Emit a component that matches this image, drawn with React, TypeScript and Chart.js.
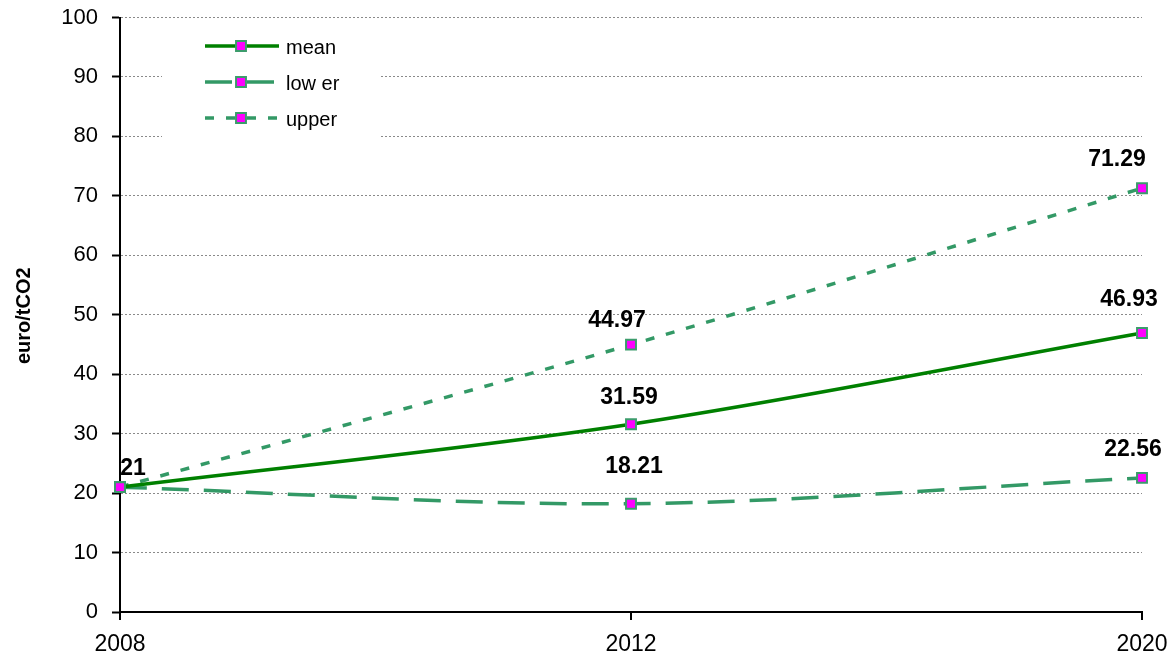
import { useEffect, useRef } from "react";
import { Chart, registerables } from "chart.js";

Chart.register(...registerables);

// Carbon price scenarios (euro per tonne CO2)
const years = ["2008", "2012", "2020"];
const meanPrice = [21, 31.59, 46.93];
const lowerPrice = [21, 18.21, 22.56];
const upperPrice = [21, 44.97, 71.29];
const seriesNames = ["mean", "low er", "upper"];

const yMin = 0;
const yMax = 100;
const yStep = 10;
const yAxisTitle = "euro/tCO2";

// Which point labels are printed, and where they sit relative to the point (px)
const labelShift: (number[] | null)[][] = [
  [[13, -20], [-2, -28], [-13, -35]],
  [null, [3, -39], [-9, -30]],
  [null, [-14, -26], [-25, -30]],
];

const FONT = '"Liberation Sans", Arial, Helvetica, sans-serif';
const DARK_GREEN = "#008000";
const SEA_GREEN = "#339966";
const MARKER_FILL = "#FF00FF";
const MARKER_EDGE = "#3C9C6C";

const markerStyle = {
  pointStyle: "rect" as const,
  pointRadius: 7,
  pointBackgroundColor: MARKER_FILL,
  pointBorderColor: MARKER_EDGE,
  pointBorderWidth: 2,
  tension: 0.33,
  fill: false,
  clip: false as const,
};

const valueLabels = {
  id: "valueLabels",
  afterDatasetsDraw(chart: any) {
    const { ctx } = chart;
    const size = 23;
    ctx.save();
    ctx.font = `bold ${size}px ${FONT}`;
    ctx.fillStyle = "#000";
    ctx.textAlign = "center";
    ctx.textBaseline = "alphabetic";
    chart.data.datasets.forEach((ds: any, di: number) => {
      const meta = chart.getDatasetMeta(di);
      meta.data.forEach((pt: any, i: number) => {
        const shift = labelShift[di][i];
        if (!shift) return;
        const text = String(ds.data[i]);
        ctx.fillText(text, pt.x + shift[0], pt.y + shift[1] + size * 0.358);
      });
    });
    ctx.restore();
  },
};

const legendBox = {
  id: "legendBox",
  afterDraw(chart: any) {
    const { ctx } = chart;
    const left = 162;
    const top = 24;
    const boxW = 218;
    const boxH = 116;
    const firstRow = 46;
    const rowGap = 36;
    ctx.save();
    ctx.fillStyle = "#ffffff";
    ctx.fillRect(left, top, boxW, boxH);
    chart.data.datasets.forEach((ds: any, i: number) => {
      const y = firstRow + i * rowGap;
      ctx.save();
      ctx.strokeStyle = ds.borderColor;
      ctx.lineWidth = ds.borderWidth;
      ctx.setLineDash(ds.borderDash || []);
      ctx.beginPath();
      ctx.moveTo(205, y);
      ctx.lineTo(279, y);
      ctx.stroke();
      ctx.restore();
      const half = ds.pointRadius * Math.SQRT1_2;
      ctx.fillStyle = ds.pointBackgroundColor;
      ctx.strokeStyle = ds.pointBorderColor;
      ctx.lineWidth = ds.pointBorderWidth;
      ctx.beginPath();
      ctx.rect(241 - half, y - half, half * 2, half * 2);
      ctx.fill();
      ctx.stroke();
      ctx.fillStyle = "#000";
      ctx.font = `20px ${FONT}`;
      ctx.textAlign = "left";
      ctx.textBaseline = "alphabetic";
      ctx.fillText(ds.label, 286, y + 8);
    });
    ctx.restore();
  },
};

const axisTitle = {
  id: "axisTitle",
  afterDraw(chart: any) {
    const { ctx, chartArea } = chart;
    ctx.save();
    ctx.translate(29.5, (chartArea.top + chartArea.bottom) / 2 + 1);
    ctx.rotate(-Math.PI / 2);
    ctx.font = `bold 20px ${FONT}`;
    ctx.fillStyle = "#000";
    ctx.textAlign = "center";
    ctx.textBaseline = "alphabetic";
    ctx.fillText(yAxisTitle, 0, 0);
    ctx.restore();
  },
};

export default function App() {
  const ref = useRef<HTMLCanvasElement>(null);

  useEffect(() => {
    const canvas = ref.current;
    if (!canvas) return;
    const chart = new Chart(canvas, {
      type: "line",
      data: {
        labels: years,
        datasets: [
          { label: seriesNames[0], data: meanPrice, borderColor: DARK_GREEN, borderWidth: 3.5, borderDash: [], ...markerStyle },
          { label: seriesNames[1], data: lowerPrice, borderColor: SEA_GREEN, borderWidth: 3.5, borderDash: [27, 15], ...markerStyle },
          { label: seriesNames[2], data: upperPrice, borderColor: SEA_GREEN, borderWidth: 3.5, borderDash: [9, 12], ...markerStyle },
        ] as any,
      },
      options: {
        responsive: false,
        animation: false,
        devicePixelRatio: 1,
        layout: { padding: { top: 17.5, right: 28, left: 0, bottom: 0 } },
        plugins: {
          legend: { display: false },
          tooltip: { enabled: false },
        },
        scales: {
          x: {
            type: "category",
            offset: false,
            afterFit: (s: any) => {
              s.height = 44;
              s.paddingLeft = 0;
              s.paddingRight = 0;
            },
            grid: {
              drawOnChartArea: false,
              drawTicks: true,
              tickLength: 8,
              tickColor: "#000",
              tickWidth: 2,
              lineWidth: 2,
            },
            border: { color: "#000", width: 2 },
            ticks: {
              font: { family: FONT, size: 23 },
              color: "#000",
              padding: 11,
              maxRotation: 0,
              autoSkip: false,
            },
          },
          y: {
            min: yMin,
            max: yMax,
            afterFit: (s: any) => {
              s.width = 120;
              s.paddingTop = 0;
              s.paddingBottom = 0;
            },
            ticks: {
              stepSize: yStep,
              font: { family: FONT, size: 22 },
              color: "#000",
              padding: 14,
            },
            grid: {
              color: (c: any) => (c.tick && c.tick.value === yMin ? "rgba(0,0,0,0)" : "#8a8a8a"),
              lineWidth: 1,
              tickColor: "#000",
              tickWidth: 2,
              tickLength: 8,
            },
            border: { color: "#000", width: 2, dash: [2, 2] },
          },
        },
      } as any,
      plugins: [valueLabels, legendBox, axisTitle],
    });
    return () => chart.destroy();
  }, []);

  return (
    <div style={{ position: "absolute", left: 0, top: 0, width: 1170, height: 656, background: "#fff" }}>
      <canvas ref={ref} width={1170} height={656} style={{ display: "block" }} />
    </div>
  );
}
